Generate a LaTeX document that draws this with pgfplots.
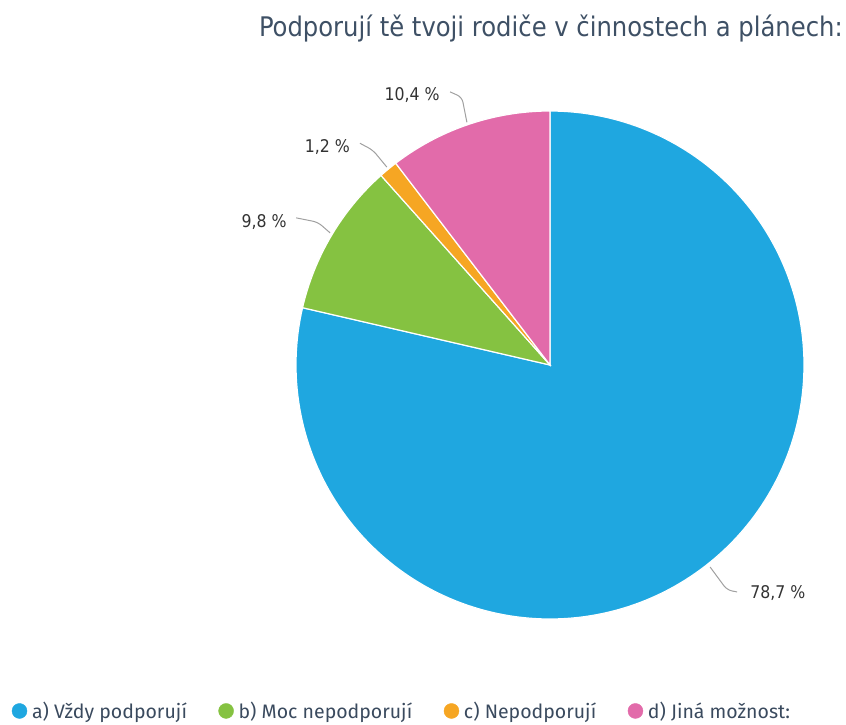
\documentclass[border=0pt]{standalone}
\usepackage{pgfplots}
\pgfplotsset{compat=1.18}
\usepackage{pgfplotstable}
\usepgfplotslibrary{polar}
\usepackage{fontspec}
\setmainfont{DejaVu Sans}
\newfontfamily\condfont{DejaVu Sans Condensed}
\newfontfamily\legfont{Fira Sans}

\definecolor{cA}{HTML}{1FA7E0}
\definecolor{cB}{HTML}{85C241}
\definecolor{cC}{HTML}{F6A623}
\definecolor{cD}{HTML}{E26BAA}
\definecolor{titlecol}{HTML}{3E5065}
\definecolor{legcol}{HTML}{3A4A5E}
\definecolor{leadcol}{HTML}{A0A0A0}

% share of answers, in percent
\pgfplotstableread{
label value
a 78.7
b 9.8
c 1.2
d 10.4
}\piedata

\pgfplotsset{
  dot legend/.style={only marks, mark=*, mark size=7.5pt, color=#1,
    mark options={draw=none, fill=#1},
    legend image code/.code={\draw[##1] plot coordinates {(7.5pt,0pt)};}},
}
\tikzset{vlabel/.style={font=\condfont\fontsize{17.5}{20}\selectfont, text=black!80, inner sep=0pt}}

\begin{document}
\begin{tikzpicture}
\useasboundingbox (0,0) rectangle (846pt,724pt);

\pgfplotstablegetelem{0}{value}\of\piedata \let\vA\pgfplotsretval
\pgfplotstablegetelem{1}{value}\of\piedata \let\vB\pgfplotsretval
\pgfplotstablegetelem{2}{value}\of\piedata \let\vC\pgfplotsretval
\pgfplotstablegetelem{3}{value}\of\piedata \let\vD\pgfplotsretval
\pgfmathsetmacro\tot{\vA+\vB+\vC+\vD}
% slices run clockwise from the top
\pgfmathsetmacro\sA{90}
\pgfmathsetmacro\sB{\sA-\vA/\tot*360}
\pgfmathsetmacro\sC{\sB-\vB/\tot*360}
\pgfmathsetmacro\sD{\sC-\vC/\tot*360}
\pgfmathsetmacro\sE{\sD-\vD/\tot*360}

\node[anchor=base east, font=\condfont\fontsize{27}{32}\selectfont, text=titlecol, inner sep=0pt]
  at (843pt,687pt) {Podporují tě tvoji rodiče v činnostech a plánech:};

\begin{polaraxis}[
  at={(550pt,359pt)}, anchor=center,
  width=508pt, height=508pt, scale only axis,
  xmin=0, xmax=360, ymin=0, ymax=1,
  hide axis, clip=false,
  legend columns=4,
  legend style={draw=none, fill=none, inner sep=0pt, outer sep=0pt,
    at={(axis description cs:-0.559,-0.181)}, anchor=west,
    font=\legfont\fontsize{19.5}{22}\selectfont, text=legcol,
    /tikz/every odd column/.append style={column sep=3pt},
    /tikz/every even column/.append style={column sep=29.5pt}},
]
\addplot[fill=cA, draw=white, line width=1.2pt, domain=\sB:\sA, samples=200, forget plot] {1} -- (axis cs:0,0) -- cycle;
\addplot[fill=cB, draw=white, line width=1.2pt, domain=\sC:\sB, samples=40, forget plot] {1} -- (axis cs:0,0) -- cycle;
\addplot[fill=cC, draw=white, line width=1.2pt, domain=\sD:\sC, samples=10, forget plot] {1} -- (axis cs:0,0) -- cycle;
\addplot[fill=cD, draw=white, line width=1.2pt, domain=\sE:\sD, samples=40, forget plot] {1} -- (axis cs:0,0) -- cycle;

\addlegendimage{dot legend=cA}
\addlegendentry{a) Vždy podporují}
\addlegendimage{dot legend=cB}
\addlegendentry{b) Moc nepodporují}
\addlegendimage{dot legend=cC}
\addlegendentry{c) Nepodporují}
\addlegendimage{dot legend=cD}
\addlegendentry{d) Jiná možnost:}

% leader lines and value labels
\draw[leadcol, line width=1pt, rounded corners=5pt]
  (axis cs:-51.6,1.015) -- (axis cs:-51.8,1.127) -- (axis cs:-50.5,1.158);
\node[vlabel, anchor=west] at (axis cs:-48.7,1.194) {78,7 \%};
\draw[leadcol, line width=1pt, rounded corners=5pt]
  (axis cs:149.0,1.01) -- (axis cs:148.4,1.073) -- (axis cs:149.9,1.155);
\node[vlabel, anchor=east] at (axis cs:151.5,1.179) {9,8 \%};
\draw[leadcol, line width=1pt, rounded corners=5pt]
  (axis cs:129.5,1.01) -- (axis cs:129.5,1.096) -- (axis cs:130.6,1.150);
\node[vlabel, anchor=east] at (axis cs:132.5,1.165) {1,2 \%};
\draw[leadcol, line width=1pt, rounded corners=5pt]
  (axis cs:108.9,1.01) -- (axis cs:108.2,1.11) -- (axis cs:110.1,1.145);
\node[vlabel, anchor=east] at (axis cs:112.2,1.148) {10,4 \%};
\end{polaraxis}
\end{tikzpicture}
\end{document}
